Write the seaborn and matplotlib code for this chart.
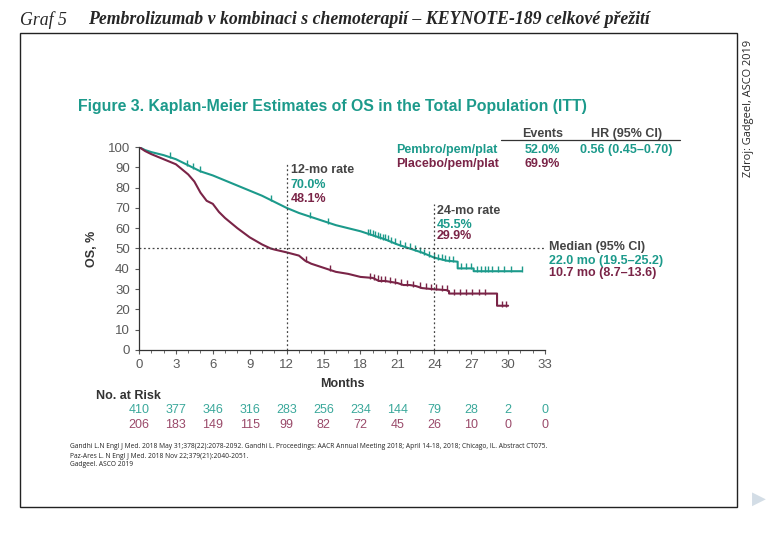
import numpy as np
import pandas as pd
import matplotlib
matplotlib.use("Agg")
import matplotlib.pyplot as plt
import matplotlib.transforms as mtransforms
from matplotlib.patches import Rectangle
from matplotlib.ticker import MultipleLocator
import seaborn as sns

# KM curves (months, OS %)
pembro_t = [0, 0.5, 1, 2, 3, 4, 5, 6, 7, 8, 9, 10, 11, 12, 13, 14, 15, 16, 17, 18, 19, 20, 21, 22, 23, 24, 25, 25.9, 25.9, 27.2, 27.2, 31.1]
pembro_s = [100, 98.5, 97.5, 96, 94, 91, 88, 86, 83.5, 81, 78.5, 76, 73, 70.0, 67.5, 65.5, 63.5, 61.5, 60, 58.5, 56.5, 54.5, 52, 50, 48, 45.5, 44, 43.5, 40.2, 40.2, 38.8, 38.8]
placebo_t = [0, 0.5, 1, 2, 3, 4, 4.5, 5, 5.5, 6, 6.5, 7, 8, 9, 10, 10.7, 11, 12, 13, 13.5, 14, 15, 15.5, 16, 17, 18, 19, 19.5, 20, 21, 21.5, 22, 22.5, 23, 24, 25, 25.2, 25.2, 29.1, 29.1, 30]
placebo_s = [100, 98, 96.5, 94, 91.5, 86.5, 83, 77.5, 73.5, 72, 68, 65, 60, 55.5, 52, 50, 49.5, 48.1, 46.5, 44, 42.5, 40.5, 39.5, 38.5, 37.5, 36, 35.5, 34, 34, 33, 32, 32, 31.5, 30.5, 29.9, 29.5, 29, 27.8, 27.8, 21.8, 21.8]

# censoring marks (months)
pembro_cens = [2.5, 3.9, 4.4, 5.0, 10.7, 13.9, 15.4, 18.6, 18.8, 19.0, 19.2, 19.4, 19.6, 19.8, 20.0, 20.2, 20.5, 20.8,
               21.2, 21.6, 22.0, 22.4, 22.8, 23.2, 23.6, 24.0, 24.3, 24.6, 24.9, 25.2, 25.5, 26.2, 26.6, 27.0,
               27.5, 27.8, 28.1, 28.4, 28.7, 29.2, 29.7, 30.2, 31.1]
placebo_cens = [13.6, 15.5, 18.8, 19.1, 19.4, 19.7, 20.0, 20.4, 20.8, 21.3, 21.8, 22.3, 22.8, 23.3, 23.7,
                24.1, 24.6, 25.0, 25.6, 26.1, 26.6, 27.1, 27.6, 28.1, 29.5, 29.8]

months_ticks = list(range(0, 34, 3))
risk_pembro = [410, 377, 346, 316, 283, 256, 234, 144, 79, 28, 2, 0]
risk_placebo = [206, 183, 149, 115, 99, 82, 72, 45, 26, 10, 0, 0]

teal = "#1c9a8b"
maroon = "#7a2447"
grey = "#444444"

sns.set_style("ticks")
plt.rcParams['font.family'] = ['Liberation Sans', 'DejaVu Sans']

fig = plt.figure(figsize=(7.72, 5.34), dpi=100)
ax = fig.add_axes([0.180, 0.3446, 0.526, 0.3801])

df_p = pd.DataFrame({'t': pembro_t, 's': pembro_s})
df_c = pd.DataFrame({'t': placebo_t, 's': placebo_s})
sns.lineplot(data=df_p, x='t', y='s', ax=ax, color=teal, lw=1.5, estimator=None, sort=False)
sns.lineplot(data=df_c, x='t', y='s', ax=ax, color=maroon, lw=1.5, estimator=None, sort=False)

# censor ticks sit slightly above the curve
cp = pd.DataFrame({'t': pembro_cens, 's': np.interp(pembro_cens, pembro_t, pembro_s) + 1})
cc = pd.DataFrame({'t': placebo_cens, 's': np.interp(placebo_cens, placebo_t, placebo_s) + 1})
sns.scatterplot(data=cp, x='t', y='s', ax=ax, marker='|', s=22, linewidth=1, color=teal)
sns.scatterplot(data=cc, x='t', y='s', ax=ax, marker='|', s=22, linewidth=1, color=maroon)

# reference lines
ax.axhline(50, color=grey, ls=(0, (1.5, 2)), lw=0.9, clip_on=False)
ax.plot([12, 12], [0, 92.5], color=grey, ls=(0, (1.5, 2)), lw=0.9)
ax.plot([24, 24], [0, 72], color=grey, ls=(0, (1.5, 2)), lw=0.9)

ax.set_xlim(0, 33)
ax.set_ylim(0, 100)
ax.set_xticks(months_ticks)
ax.set_yticks(range(0, 101, 10))
ax.xaxis.set_minor_locator(MultipleLocator(1))
ax.tick_params(axis='both', labelsize=9.5, colors='#5a5a5a', length=3, width=0.8)
ax.tick_params(axis='x', which='minor', length=2, color='#555555')
sns.despine(ax=ax)
for sp in ['left', 'bottom']:
    ax.spines[sp].set_color('#333333')
    ax.spines[sp].set_linewidth(0.9)
ax.set_xlabel('Months', fontsize=9, fontweight='bold', color='#333333', labelpad=5)
ax.set_ylabel('OS, %', fontsize=9, fontweight='bold', color='#333333', labelpad=7)

# annotations in the plot
bold = dict(fontsize=9, fontweight='bold', va='center')
ax.text(12.35, 88.5, '12-mo rate', color=grey, **bold)
ax.text(12.35, 81.5, '70.0%', color=teal, **bold)
ax.text(12.35, 74.5, '48.1%', color=maroon, **bold)
ax.text(24.2, 68.5, '24-mo rate', color=grey, **bold)
ax.text(24.2, 61.5, '45.5%', color=teal, **bold)
ax.text(24.2, 56, '29.9%', color=maroon, **bold)
ax.text(33.3, 50.5, 'Median (95% CI)', color=grey, clip_on=False, **bold)
ax.text(33.3, 44, '22.0 mo (19.5–25.2)', color=teal, clip_on=False, **bold)
ax.text(33.3, 38, '10.7 mo (8.7–13.6)', color=maroon, clip_on=False, **bold)

# legend table
ax.text(32.8, 106.5, 'Events', color=grey, clip_on=False, ha='center', **bold)
ax.text(39.6, 106.5, 'HR (95% CI)', color=grey, clip_on=False, ha='center', **bold)
ax.plot([29.4, 44.0], [103.6, 103.6], color='#333333', lw=0.9, clip_on=False)
ax.text(20.9, 98.5, 'Pembro/pem/plat', color=teal, clip_on=False, **bold)
ax.text(32.8, 98.5, '52.0%', color=teal, clip_on=False, ha='center', **bold)
ax.text(39.6, 98.5, '0.56 (0.45–0.70)', color=teal, clip_on=False, ha='center', **bold)
ax.text(20.9, 91.5, 'Placebo/pem/plat', color=maroon, clip_on=False, **bold)
ax.text(32.8, 91.5, '69.9%', color=maroon, clip_on=False, ha='center', **bold)

# number at risk
trans = mtransforms.blended_transform_factory(ax.transData, fig.transFigure)
fig.text(96 / 772, 1 - 396 / 534, 'No. at Risk', fontsize=9, fontweight='bold', color='#333333', va='center')
for m, a, b in zip(months_ticks, risk_pembro, risk_placebo):
    ax.text(m, 1 - 410 / 534, str(a), transform=trans, ha='center', va='center', fontsize=9, color='#3aa89b')
    ax.text(m, 1 - 425 / 534, str(b), transform=trans, ha='center', va='center', fontsize=9, color='#9a4a6a')

# figure title
fig.text(78 / 772, 1 - 106 / 534, 'Figure 3. Kaplan-Meier Estimates of OS in the Total Population (ITT)',
         fontsize=11.4, fontweight='bold', color='#1c9a8b', va='center')

# references
refs = ['Gandhi L.N Engl J Med. 2018 May 31;378(22):2078-2092. Gandhi L. Proceedings: AACR Annual Meeting 2018; April 14-18, 2018; Chicago, IL. Abstract CT075.',
        'Paz-Ares L. N Engl J Med. 2018 Nov 22;379(21):2040-2051.',
        'Gadgeel. ASCO 2019']
for i, r in enumerate(refs):
    fig.text(70 / 772, 1 - (447 + 9 * i) / 534, r, fontsize=4.8, color='#222222', va='center',
             family=['Open Sans', 'DejaVu Sans'])

# outer frame, header, source
fig.patches.append(Rectangle((20 / 772, 1 - 507 / 534), 717 / 772, 474 / 534, transform=fig.transFigure,
                             fill=False, edgecolor='#222222', lw=1.0))
fig.text(20 / 772, 1 - 20 / 534, 'Graf 5', fontsize=12.8, style='italic', family=['Liberation Serif'], va='center')
fig.text(88 / 772, 1 - 20 / 534, 'Pembrolizumab v kombinaci s chemoterapií – KEYNOTE-189 celkové přežití',
         fontsize=12.8, style='italic', fontweight='bold', family=['Liberation Serif'], va='center')
fig.text(749 / 772, 1 - 108 / 534, 'Zdroj: Gadgeel, ASCO 2019', rotation=90, fontsize=7.9, va='center', ha='center',
         family=['Open Sans', 'DejaVu Sans'])
fig.text(759 / 772, 1 - 499 / 534, '▶', fontsize=13, color='#d3dde6', va='center', ha='center',
         family=['DejaVu Sans'])

fig.savefig('out.png', dpi=100)
